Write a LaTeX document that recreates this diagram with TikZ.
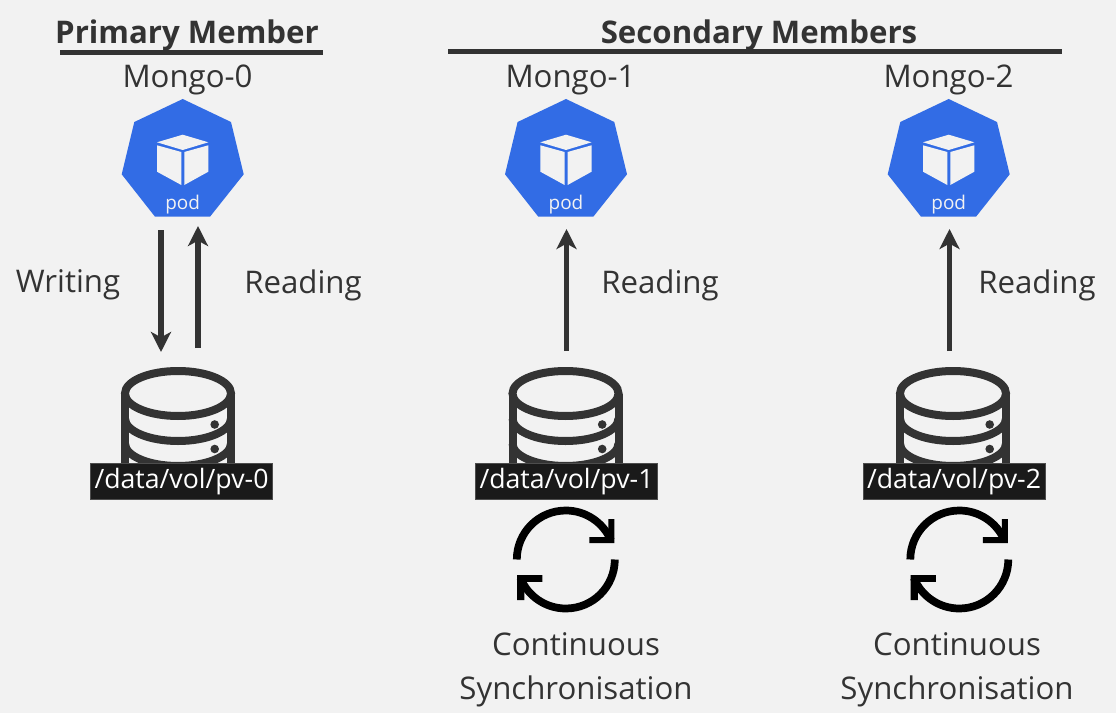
\documentclass[tikz,border=0pt]{standalone}
\usepackage{fontspec}
\setmainfont{Open Sans}
\usetikzlibrary{arrows.meta}
\definecolor{bgc}{HTML}{F2F2F2}
\definecolor{ink}{HTML}{333333}
\definecolor{podblue}{HTML}{326CE5}
\definecolor{boxc}{HTML}{1A1A1A}
\definecolor{boxedge}{HTML}{4D4D4D}
\tikzset{
 lbl/.style={text=ink,font=\fontsize{23.4}{26}\selectfont,inner sep=0pt,anchor=center},
 ttl/.style={text=ink,font=\fontsize{23.4}{26}\selectfont\bfseries,inner sep=0pt,anchor=center},
 pathlbl/.style={fill=boxc,text=white,draw=boxedge,line width=0.6pt,font=\fontsize{20}{24}\selectfont,inner sep=0pt,minimum height=27.5pt,anchor=center},
 rule/.style={draw=ink,line width=3.75pt},
 flow/.style={draw=ink,line width=4pt,-{Stealth[length=15pt,width=15pt,inset=4pt]}},
 band/.style={draw=ink,line width=6pt,line cap=butt},
 syncline/.style={draw=black,line width=5.8pt},
 pics/podicon/.style={code={
  \fill[podblue] (0,-59)--(48.3,-36)--(61,16.3)--(27.3,58.7)--(-27.7,58.7)--(-61,16.3)--(-48.4,-36)--cycle;
  \fill[bgc] (0,-23.3)--(25.6,-15.7)--(0,-8)--(-25.7,-15.7)--cycle;
  \fill[bgc] (-25.7,-12.7)--(-1.4,-6)--(-1.4,27)--(-25.7,13.7)--cycle;
  \fill[bgc] (1.6,-6)--(25.6,-12.7)--(25.6,13.7)--(1.6,27)--cycle;
  \node[text=bgc,font=\fontsize{14.2}{15}\selectfont,inner sep=0pt] at (0,46.5) {pod};
 }},
 pics/dbicon/.style={code={
  \draw[band] (0,0) ellipse [x radius=53,y radius=22.5];
  \draw[band] (-53,0)--(-53,72) (53,0)--(53,72);
  \draw[band] (-53,25) arc[start angle=180,end angle=0,x radius=53,y radius=22.5];
  \draw[band] (-53,50) arc[start angle=180,end angle=0,x radius=53,y radius=22.5];
  \fill[ink] (36.7,31) circle[radius=4.3];
  \fill[ink] (36.7,55.5) circle[radius=4.3];
 }},
 pics/syncicon/.style={code={
  \draw[syncline] (-49,0) arc[start angle=180,end angle=337,radius=49];
  \draw[syncline] (49,0) arc[start angle=0,end angle=158,radius=49];
  \fill[black] (42.5,-40.4)--(48.5,-40.4)--(48.5,-16.4)--(23.5,-16.4)--(23.5,-22.4)--(42.5,-22.4)--cycle;
  \fill[black] (-48.8,15.6)--(-23.5,15.6)--(-23.5,22.3)--(-41.5,22.3)--(-41.5,40.6)--(-48.8,40.6)--cycle;
 }},
}
\begin{document}
\begin{tikzpicture}[x=0.75pt,y=-0.75pt]
\useasboundingbox[fill=bgc] (0,0) rectangle (1116,713);

% titles
\node[ttl] (t0) at (187,35) {Primary Member};
\node[ttl] (t1) at (759,35) {Secondary Members};
\coordinate (r0a) at (60,53); \coordinate (r0b) at (323,53);
\coordinate (r1a) at (448,52); \coordinate (r1b) at (1062,52);
\draw[rule] (r0a)--(r0b);
\draw[rule] (r1a)--(r1b);

\node[lbl] (m0) at (187.5,80) {Mongo-0};
\node[lbl] (m1) at (570.5,80) {Mongo-1};
\node[lbl] (m2) at (948.5,80) {Mongo-2};

% pods
\pic at (182.7,158) {podicon};
\pic at (566,158) {podicon};
\pic at (948.7,158) {podicon};

% databases
\pic at (178,393.5) {dbicon};
\pic at (565.5,393.5) {dbicon};
\pic at (953,393.5) {dbicon};

\node[pathlbl,minimum width=137pt] (p0) at (181.5,481.5) {/data/vol/pv-0};
\node[pathlbl,minimum width=136pt] (p1) at (566.5,481.5) {/data/vol/pv-1};
\node[pathlbl,minimum width=136.5pt] (p2) at (954,481.5) {/data/vol/pv-2};

% arrows
\coordinate (a0s) at (161,230); \coordinate (a0e) at (161,352);
\coordinate (b0s) at (198,348); \coordinate (b0e) at (198,226);
\coordinate (b1s) at (566.5,351); \coordinate (b1e) at (566.5,229);
\coordinate (b2s) at (949.5,351); \coordinate (b2e) at (949.5,229);
\draw[flow] (a0s)--(a0e);
\draw[flow] (b0s)--(b0e);
\draw[flow] (b1s)--(b1e);
\draw[flow] (b2s)--(b2e);

\node[lbl] (w0) at (68,285) {Writing};
\node[lbl] (r0) at (303,285) {Reading};
\node[lbl] (r1) at (660,285) {Reading};
\node[lbl] (r2) at (1037,285) {Reading};

% sync
\pic at (565.8,559.5) {syncicon};
\pic at (959.3,559.5) {syncicon};

\node[lbl] (c1) at (576,644) {Continuous};
\node[lbl] (s1) at (576,691) {Synchronisation};
\node[lbl] (c2) at (957,644) {Continuous};
\node[lbl] (s2) at (957,691) {Synchronisation};
\end{tikzpicture}
\end{document}
